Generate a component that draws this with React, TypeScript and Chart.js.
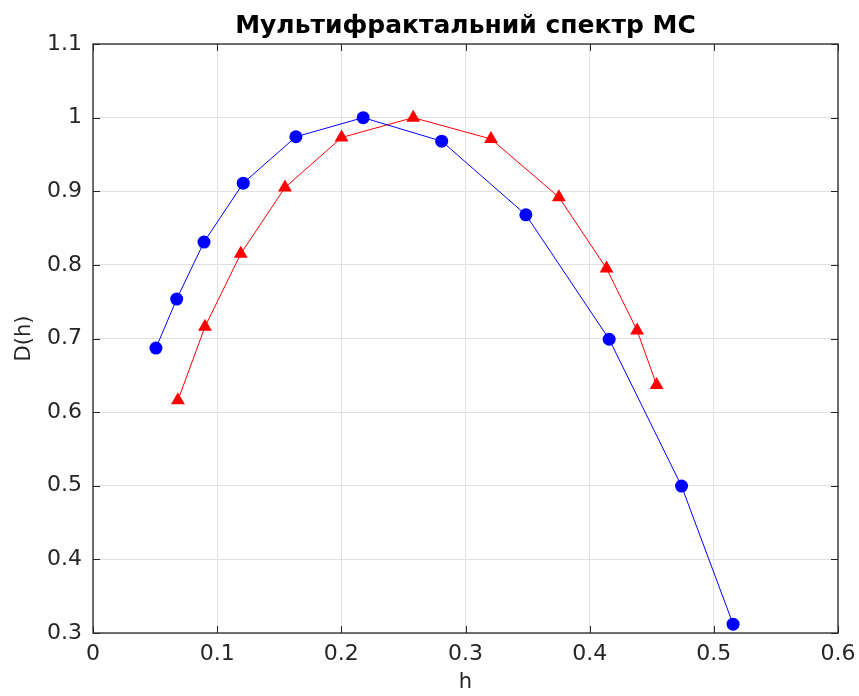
import React, { useEffect, useRef } from "react";
import { Chart, registerables } from "chart.js";

Chart.register(...registerables);

// Multifractal spectrum D(h), two estimates
const blueH = [0.0507, 0.0674, 0.0894, 0.121, 0.1634, 0.2176, 0.2808, 0.3486, 0.4157, 0.474, 0.5155];
const blueD = [0.687, 0.7535, 0.831, 0.911, 0.974, 1.0, 0.968, 0.868, 0.699, 0.4995, 0.312];

const redH = [0.0684, 0.0902, 0.119, 0.1546, 0.2002, 0.2579, 0.3205, 0.3752, 0.4136, 0.4382, 0.4539];
const redD = [0.616, 0.716, 0.815, 0.905, 0.973, 1.0, 0.971, 0.892, 0.795, 0.711, 0.637];

const xTicks = [0, 0.1, 0.2, 0.3, 0.4, 0.5, 0.6];
const yTicks = [0.3, 0.4, 0.5, 0.6, 0.7, 0.8, 0.9, 1.0, 1.1];

const titleText = "Мультифрактальний спектр МС";
const xLabel = "h";
const yLabel = "D(h)";

const W = 859;
const H = 696;
const AXIS = "#262626";
const FONT = "'DejaVu Sans', sans-serif";

const fmt = (v: number) => String(Number(v.toFixed(1)));

// Box outline, inward ticks, title and axis labels in the MATLAB figure style
const framePlugin = {
  id: "frame",
  afterDraw(chart: any) {
    const { ctx, chartArea: a, scales } = chart;
    ctx.save();
    ctx.strokeStyle = AXIS;
    ctx.lineWidth = 1.3;
    ctx.strokeRect(a.left, a.top, a.right - a.left, a.bottom - a.top);
    const tl = 7;
    ctx.beginPath();
    xTicks.forEach((t) => {
      const x = Math.round(scales.x.getPixelForValue(t)) + 0.5;
      ctx.moveTo(x, a.bottom);
      ctx.lineTo(x, a.bottom - tl);
      ctx.moveTo(x, a.top);
      ctx.lineTo(x, a.top + tl);
    });
    yTicks.forEach((t) => {
      const y = Math.round(scales.y.getPixelForValue(t)) + 0.5;
      ctx.moveTo(a.left, y);
      ctx.lineTo(a.left + tl, y);
      ctx.moveTo(a.right, y);
      ctx.lineTo(a.right - tl, y);
    });
    ctx.lineWidth = 1;
    ctx.stroke();

    ctx.fillStyle = "#000";
    ctx.textAlign = "center";
    ctx.textBaseline = "alphabetic";
    ctx.font = `bold 25px ${FONT}`;
    ctx.fillText(titleText, (a.left + a.right) / 2, 33);

    ctx.fillStyle = AXIS;
    ctx.textBaseline = "middle";
    ctx.font = `21px ${FONT}`;
    ctx.fillText(xLabel, (a.left + a.right) / 2, 683);
    ctx.translate(25, (a.top + a.bottom) / 2);
    ctx.rotate(-Math.PI / 2);
    ctx.fillText(yLabel, 0, 0);
    ctx.restore();
  },
};

export default function App() {
  const ref = useRef<HTMLCanvasElement | null>(null);

  useEffect(() => {
    document.body.style.margin = "0";
    const canvas = ref.current;
    if (!canvas) return;
    const chart = new Chart(canvas, {
      type: "scatter",
      data: {
        datasets: [
          {
            label: "blue",
            data: blueH.map((h, i) => ({ x: h, y: blueD[i] })),
            showLine: true,
            borderColor: "#0000ff",
            backgroundColor: "#0000ff",
            borderWidth: 1,
            pointStyle: "circle",
            pointRadius: 6.5,
            pointBorderWidth: 0,
          },
          {
            label: "red",
            data: redH.map((h, i) => ({ x: h, y: redD[i] })),
            showLine: true,
            borderColor: "#ff0000",
            backgroundColor: "#ff0000",
            borderWidth: 1,
            pointStyle: "triangle",
            pointRadius: 8,
            pointBorderWidth: 0,
          },
        ],
      },
      options: {
        responsive: false,
        animation: false,
        layout: { padding: { left: 0, right: 21, top: 44, bottom: 0 } },
        plugins: {
          legend: { display: false },
          title: { display: false },
          tooltip: { enabled: false },
        },
        scales: {
          x: {
            type: "linear",
            min: 0,
            max: 0.6,
            afterFit: (s: any) => {
              s.height = 63;
              s.paddingLeft = 0;
              s.paddingRight = 0;
            },
            afterBuildTicks: (s: any) => {
              s.ticks = xTicks.map((v) => ({ value: v }));
            },
            ticks: {
              callback: (v: any) => fmt(Number(v)),
              color: AXIS,
              font: { family: FONT, size: 22 },
              padding: 8,
              maxRotation: 0,
            },
            grid: { color: "#e1e1e1", lineWidth: 1, drawTicks: false },
            border: { display: false },
          },
          y: {
            type: "linear",
            min: 0.3,
            max: 1.1,
            afterFit: (s: any) => {
              s.width = 93;
              s.paddingTop = 0;
              s.paddingBottom = 0;
            },
            afterBuildTicks: (s: any) => {
              s.ticks = yTicks.map((v) => ({ value: v }));
            },
            ticks: {
              callback: (v: any) => fmt(Number(v)),
              color: AXIS,
              font: { family: FONT, size: 22 },
              padding: 11,
            },
            grid: { color: "#e1e1e1", lineWidth: 1, drawTicks: false },
            border: { display: false },
          },
        },
      },
      plugins: [framePlugin],
    });
    return () => chart.destroy();
  }, []);

  return (
    <div style={{ width: W, height: H, background: "#fff" }}>
      <canvas ref={ref} width={W} height={H} style={{ display: "block" }} />
    </div>
  );
}
